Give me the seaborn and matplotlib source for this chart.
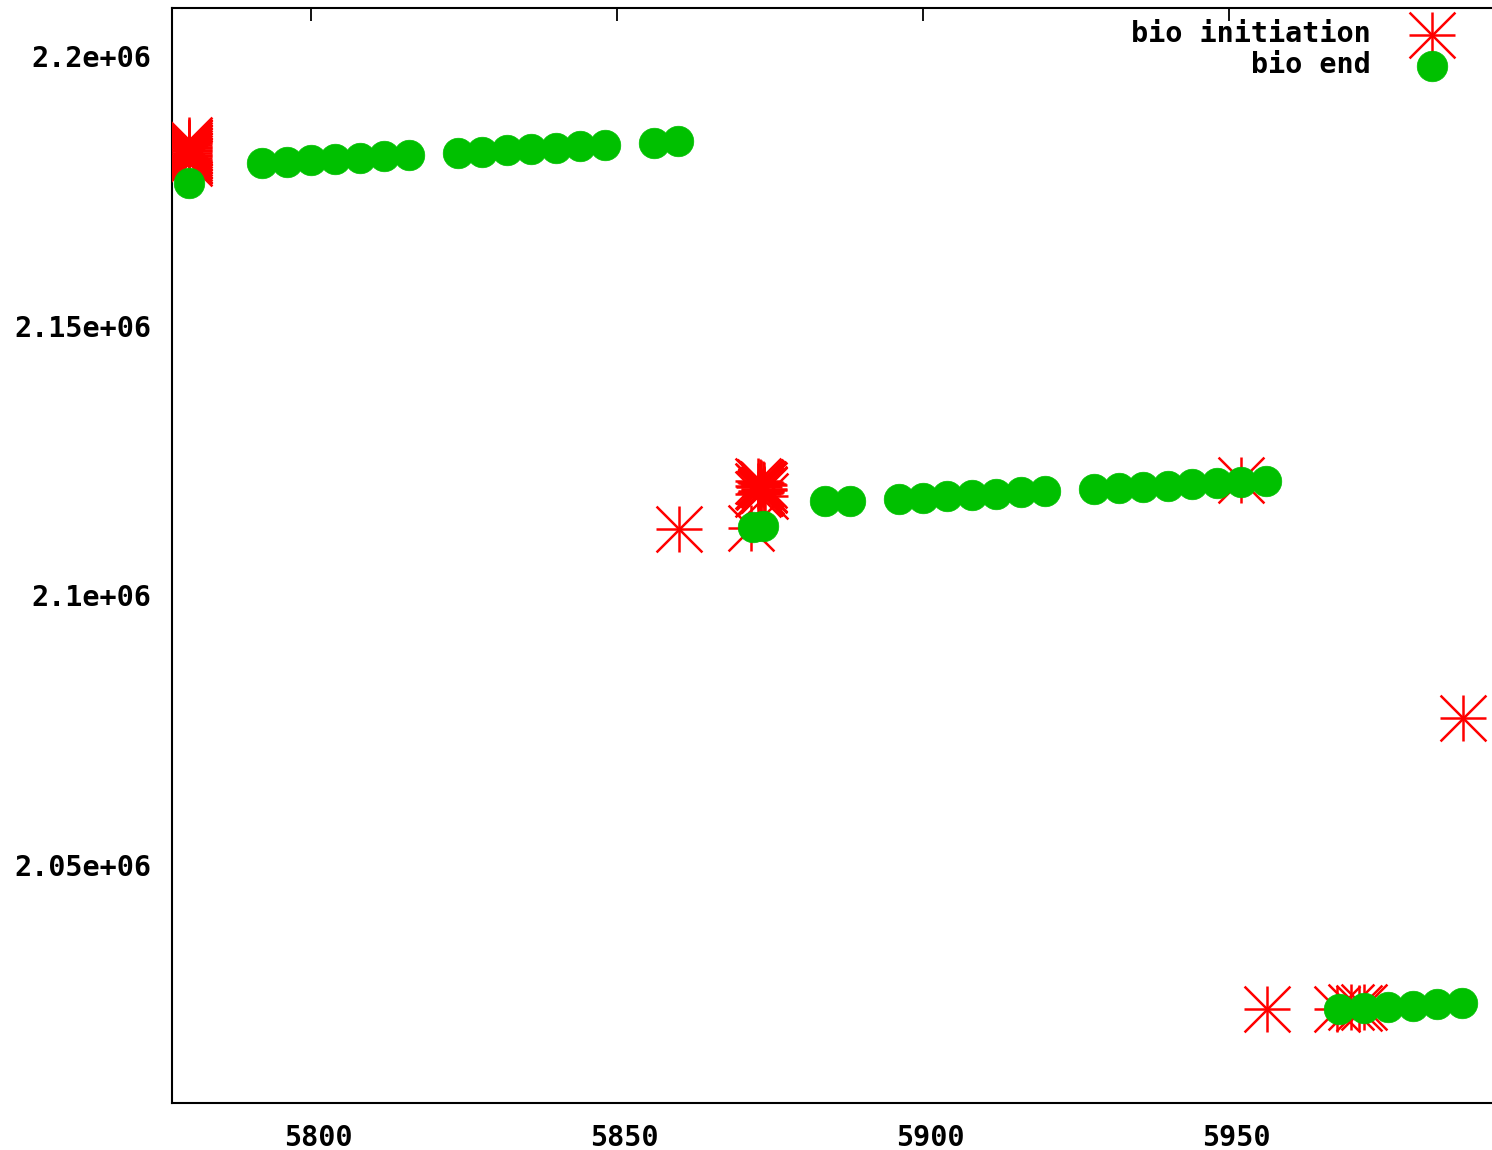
import matplotlib
matplotlib.use("Agg")
import matplotlib.pyplot as plt
import matplotlib.transforms as mtransforms
import seaborn as sns
import pandas as pd
from matplotlib.legend_handler import HandlerTuple

# ---- data ----
init_x = [5780, 5780, 5780, 5780, 5780, 5780, 5780, 5780,
          5780, 5780, 5780, 5780, 5780, 5780, 5780,
          5860.1, 5871.9,
          5873.0, 5873.6, 5874.1, 5873.2, 5874.0, 5873.5, 5873.0, 5874.2,
          5873.4, 5873.8, 5873.1, 5874.0, 5873.6, 5873.3,
          5952.0, 5956.2,
          5967.6, 5970.0, 5971.2, 5972.0,
          5988.2]
init_y = [2184400, 2184100, 2183800, 2183500, 2183200, 2182900, 2182600, 2182300,
          2182000, 2181700, 2181400, 2181100, 2180800, 2180500, 2180200,
          2112300, 2112500,
          2121200, 2120800, 2120400, 2120000, 2119600, 2119200, 2118800, 2118400,
          2121000, 2120600, 2120200, 2119800, 2119400, 2119000,
          2121300, 2023300,
          2023300, 2023600, 2023400, 2023700,
          2077300]

end_x = [5780,
         5792, 5796, 5800, 5804, 5808, 5812, 5816,
         5824, 5828, 5832, 5836, 5840, 5844, 5848,
         5856, 5860,
         5872.2, 5873.8,
         5884, 5888,
         5896, 5900, 5904, 5908, 5912, 5916, 5920,
         5928, 5932, 5936, 5940, 5944, 5948, 5952, 5956,
         5968, 5972, 5976, 5980, 5984, 5988]
end_y = [2176450,
         2180160, 2180400, 2180650, 2180900, 2181150, 2181400, 2181650,
         2182020, 2182270, 2182520, 2182770, 2183020, 2183270, 2183500,
         2183950, 2184150,
         2112700, 2112900,
         2117500, 2117500,
         2117860, 2118110, 2118360, 2118600, 2118850, 2119100, 2119350,
         2119720, 2119930, 2120140, 2120350, 2120570, 2120780, 2120990, 2121200,
         2023300, 2023420, 2023650, 2023880, 2024150, 2024400]

x_ticks = [5800, 5850, 5900, 5950]
y_ticks = [2050000, 2100000, 2150000, 2200000]
y_tick_labels = ["2.05e+06", "2.1e+06", "2.15e+06", "2.2e+06"]
labels = ["bio initiation", "bio end"]

# ---- plot ----
sns.set_theme(style="white")
plt.rcParams['font.family'] = ['DejaVu Sans Mono']
plt.rcParams['font.weight'] = 'bold'
plt.rcParams['text.color'] = 'black'

W, H = 1492, 1150
fig = plt.figure(figsize=(W / 100, H / 100), dpi=100)
ax = fig.add_axes([172 / W, 1 - 1103 / H, (1492 - 172) / W, (1103 - 8) / H])

init_df = pd.DataFrame({"x": init_x, "y": init_y})
end_df = pd.DataFrame({"x": end_x, "y": end_y})

red = "#ff0000"
green = "#00c000"
star_s = 33 ** 2
sns.scatterplot(data=init_df, x="x", y="y", marker="+", s=star_s, color=red,
                linewidth=1.8, ax=ax, zorder=3, legend=False)
sns.scatterplot(data=init_df, x="x", y="y", marker="x", s=star_s, color=red,
                linewidth=1.8, ax=ax, zorder=3, legend=False)
sns.scatterplot(data=end_df, x="x", y="y", marker="o", s=22 ** 2, color=green,
                edgecolor=green, linewidth=0.5, ax=ax, zorder=4, legend=False)

ax.set_xlim(5777.29, 5992.97)
ax.set_ylim(2005872, 2208900)
ax.set_xticks(x_ticks)
ax.set_xticklabels([str(v) for v in x_ticks])
ax.set_yticks(y_ticks)
ax.set_yticklabels(y_tick_labels)
ax.set_xlabel("")
ax.set_ylabel("")

ax.tick_params(axis="both", which="both", direction="in", length=9, width=1.3,
               color="black", top=True, right=False, labelsize=20.5,
               labelcolor="black")
ax.tick_params(axis="y", pad=15)
ax.tick_params(axis="x", pad=15)
shift = mtransforms.ScaledTranslation(7 / 100, 0, fig.dpi_scale_trans)
for lab in ax.get_xticklabels():
    lab.set_fontweight("bold")
    lab.set_transform(lab.get_transform() + shift)
for lab in ax.get_yticklabels():
    lab.set_fontweight("bold")

for side in ["left", "top", "bottom"]:
    ax.spines[side].set_visible(True)
    ax.spines[side].set_color("black")
    ax.spines[side].set_linewidth(1.5)
ax.spines["right"].set_visible(False)

h_plus, h_x, h_circ = ax.collections[0], ax.collections[1], ax.collections[2]
leg_labels = [labels[0], labels[1].rjust(len(labels[0]))]
leg = ax.legend([(h_plus, h_x), h_circ], leg_labels,
                handler_map={tuple: HandlerTuple(ndivide=1)},
                markerfirst=False, frameon=False,
                loc="upper right", bbox_to_anchor=(1453 / W, 1 - 20 / H),
                bbox_transform=fig.transFigure,
                prop={"family": "DejaVu Sans Mono", "weight": "bold", "size": 20.5},
                handlelength=1.5, handletextpad=1.4, labelspacing=0.12,
                borderaxespad=0, borderpad=0)
for t in leg.get_texts():
    t.set_color("black")

fig.savefig("out.png", dpi=100, facecolor="white")
